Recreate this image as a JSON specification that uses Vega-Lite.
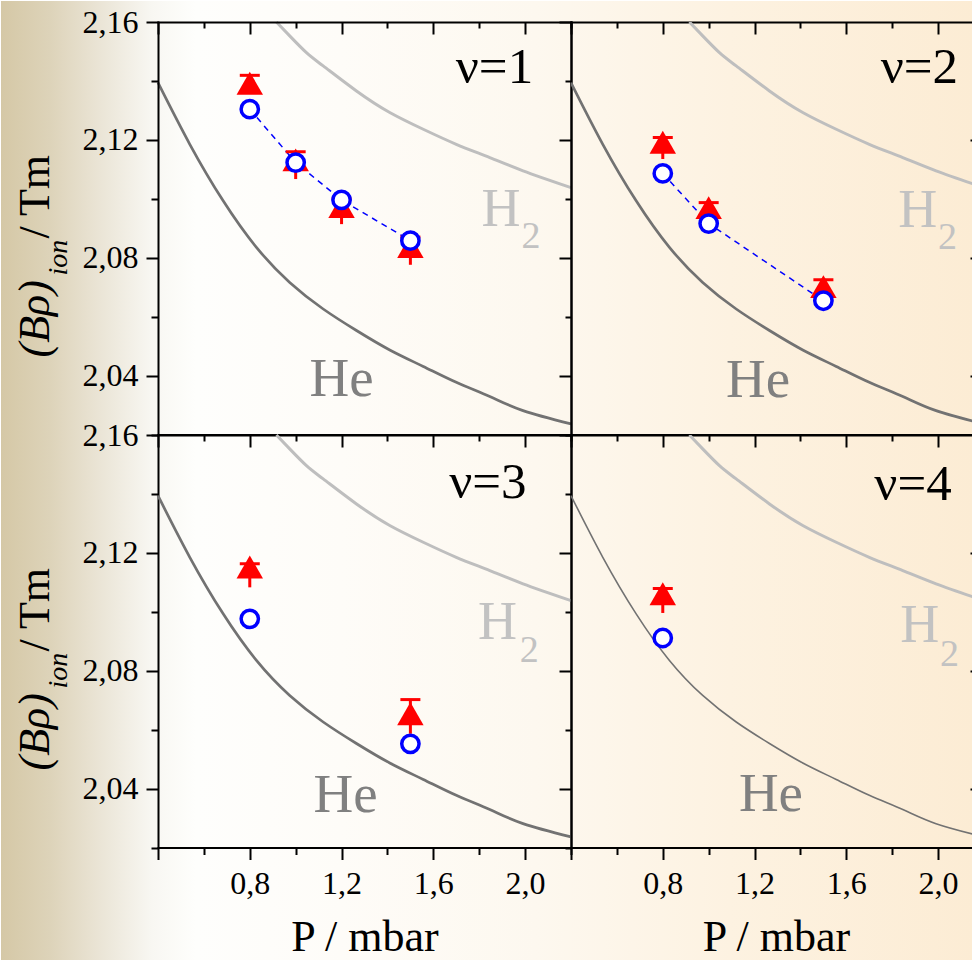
{
  "$schema": "https://vega.github.io/schema/vega-lite/v6.json",
  "padding": 0,
  "autosize": {"type": "pad"},
  "background": "#ffffff",
  "config": {
    "view": {"stroke": null},
    "font": "Liberation Serif",
    "axis": {"domainColor": "#000000", "domainWidth": 2, "tickColor": "#000000", "tickWidth": 2, "labelColor": "#000000", "labelFont": "Liberation Serif", "labelFontSize": 32, "titleFont": "Liberation Serif", "titleColor": "#000000", "titleFontWeight": "normal", "titleFontSize": 44, "grid": false, "labelOverlap": false, "labelFlush": false, "zindex": 1, "domainCap": "square"}
  },
  "datasets": {
    "he": [{"P":0.4,"v":2.1394},{"P":0.5386,"v":2.1185},{"P":0.684,"v":2.0993},{"P":0.829,"v":2.0835},{"P":0.974,"v":2.0716},{"P":1.12,"v":2.0626},{"P":1.265,"v":2.0553},{"P":1.41,"v":2.0487},{"P":1.556,"v":2.0431},{"P":1.70,"v":2.0377},{"P":1.846,"v":2.0329},{"P":1.991,"v":2.0281},{"P":2.2,"v":2.0236}],
    "h2": [{"P":0.916,"v":2.16},{"P":0.974,"v":2.1553},{"P":1.047,"v":2.1496},{"P":1.12,"v":2.1451},{"P":1.265,"v":2.1366},{"P":1.41,"v":2.1293},{"P":1.556,"v":2.1236},{"P":1.70,"v":2.1185},{"P":1.846,"v":2.114},{"P":1.991,"v":2.1095},{"P":2.2,"v":2.1038}],
    "pts": [
      {"panel":1,"kind":"circ","P":0.8,"v":2.1304},{"panel":1,"kind":"circ","P":1.0,"v":2.1123},{"panel":1,"kind":"circ","P":1.2,"v":2.0996},{"panel":1,"kind":"circ","P":1.5,"v":2.0858},
      {"panel":1,"kind":"tri","P":0.8,"v":2.1392,"lo":2.1365,"hi":2.1419},{"panel":1,"kind":"tri","P":1.0,"v":2.1132,"lo":2.1067,"hi":2.116},{"panel":1,"kind":"tri","P":1.2,"v":2.0974,"lo":2.0914,"hi":2.1},{"panel":1,"kind":"tri","P":1.5,"v":2.0838,"lo":2.0776,"hi":2.087},
      {"panel":2,"kind":"circ","P":0.8,"v":2.1086},{"panel":2,"kind":"circ","P":1.0,"v":2.0916},{"panel":2,"kind":"circ","P":1.5,"v":2.0654},
      {"panel":2,"kind":"tri","P":0.8,"v":2.1192,"lo":2.1135,"hi":2.1208},{"panel":2,"kind":"tri","P":1.0,"v":2.097,"lo":2.0935,"hi":2.0987},{"panel":2,"kind":"tri","P":1.5,"v":2.0702,"lo":2.0665,"hi":2.0725},
      {"panel":3,"kind":"circ","P":0.8,"v":2.0976},{"panel":3,"kind":"circ","P":1.5,"v":2.0552},
      {"panel":3,"kind":"tri","P":0.8,"v":2.1152,"lo":2.1083,"hi":2.1163},{"panel":3,"kind":"tri","P":1.5,"v":2.0654,"lo":2.0586,"hi":2.0702},
      {"panel":4,"kind":"circ","P":0.8,"v":2.0911},
      {"panel":4,"kind":"tri","P":0.8,"v":2.1061,"lo":2.0996,"hi":2.1079}
    ]
  },
  "columns": 2,
  "spacing": 0,
  "bounds": "flush",
  "concat": [
    {
      "width": 413, "height": 412.5,
      "resolve": {"axis": {"x": "independent", "y": "independent"}},
      "layer": [
        {"data": {"values": [{}]},
         "mark": {"type": "rect", "color": {"gradient": "linear", "x1": 0, "y1": 0, "x2": 1, "y2": 0, "stops": [{"offset":0,"color":"#d5c8a6"},{"offset":0.05,"color":"#ddd3b9"},{"offset":0.1,"color":"#eae4d5"},{"offset":0.155,"color":"#f8f7f2"},{"offset":0.2,"color":"#fefefc"},{"offset":0.35,"color":"#fefcf8"},{"offset":0.55,"color":"#fdf8ef"},{"offset":0.75,"color":"#fdf2e1"},{"offset":1,"color":"#fcecd4"}]}},
         "encoding": {
           "x": {"datum": -0.2843, "type": "quantitative", "scale": {"domain": [0.4, 2.2], "nice": false, "zero": false}, "axis": null},
           "x2": {"datum": 3.952},
           "y": {"datum": 2.16713, "type": "quantitative", "scale": {"domain": [2.02, 2.16], "nice": false, "zero": false}, "axis": null},
           "y2": {"datum": 1.84131}
         }},
        {"data": {"name": "he"},
         "mark": {"type": "line", "color": "#727272", "strokeWidth": 2.7, "interpolate": "natural"},
         "encoding": {
           "x": {"field": "P", "type": "quantitative", "scale": {"domain": [0.4, 2.2], "nice": false, "zero": false},
                 "axis": {"orient": "bottom", "zindex": 2, "ticks": false, "labels": false, "title": null}},
           "y": {"field": "v", "type": "quantitative", "scale": {"domain": [2.02, 2.16], "nice": false, "zero": false},
                 "axis": {"orient": "left", "zindex": 2, "values": [2.02,2.04,2.06,2.08,2.1,2.12,2.14,2.16], "tickSize": {"condition": {"test": "round(datum.value*100) % 4 == 0", "value": 12}, "value": 7}, "labelExpr": "round(datum.value*100) % 4 == 0 ? replace(format(datum.value, '.2f'), '.', ',') : ''", "labelPadding": 8, "title": "(Bρ)", "titleX": -110, "titleY": 335, "titleAngle": -90, "titleAlign": "left", "titleBaseline": "alphabetic", "titleFontStyle": "italic", "titleFontSize": 44}}
         }},
        {"data": {"name": "h2"},
         "mark": {"type": "line", "color": "#bebebe", "strokeWidth": 3, "interpolate": "natural"},
         "encoding": {
           "x": {"field": "P", "type": "quantitative", "scale": {"domain": [0.4, 2.2], "nice": false, "zero": false},
                 "axis": {"orient": "top", "zindex": 2, "values": [0.4,0.6,0.8,1.0,1.2,1.4,1.6,1.8,2.0,2.2], "tickSize": {"condition": {"test": "round(datum.value*10) % 4 == 0", "value": -12}, "value": -6}, "labels": false, "title": "ion", "titleX": -92, "titleY": 253, "titleAngle": -90, "titleAlign": "left", "titleBaseline": "alphabetic", "titleFontStyle": "italic", "titleFontSize": 28}},
           "y": {"field": "v", "type": "quantitative", "scale": {"domain": [2.02, 2.16], "nice": false, "zero": false},
                 "axis": {"orient": "right", "zindex": 2, "values": [2.02,2.04,2.06,2.08,2.1,2.12,2.14,2.16], "tickSize": {"condition": {"test": "round(datum.value*100) % 4 == 0", "value": -12}, "value": -6}, "labels": false, "title": "/ Tm", "titleX": -523, "titleY": 216, "titleAngle": -90, "titleAlign": "left", "titleBaseline": "alphabetic", "titleFontSize": 44}}
         }},
        {"data": {"name": "pts"}, "transform": [{"filter": "datum.panel == 1 && datum.kind == 'circ'"}],
         "mark": {"type": "line", "color": "#0000ff", "strokeWidth": 1.5, "strokeDash": [6, 5]},
         "encoding": {"x": {"field": "P", "type": "quantitative", "scale": {"domain": [0.4, 2.2], "nice": false, "zero": false}, "axis": null}, "y": {"field": "v", "type": "quantitative", "scale": {"domain": [2.02, 2.16], "nice": false, "zero": false}, "axis": null}}},
        {"data": {"name": "pts"}, "transform": [{"filter": "datum.panel == 1 && datum.kind == 'tri'"}],
         "mark": {"type": "rule", "color": "#ff0000", "strokeWidth": 3},
         "encoding": {"x": {"field": "P", "type": "quantitative", "scale": {"domain": [0.4, 2.2], "nice": false, "zero": false}, "axis": null}, "y": {"field": "lo", "type": "quantitative", "scale": {"domain": [2.02, 2.16], "nice": false, "zero": false}, "axis": null}, "y2": {"field": "hi"}}},
        {"data": {"name": "pts"}, "transform": [{"filter": "datum.panel == 1 && datum.kind == 'tri'"}],
         "mark": {"type": "tick", "orient": "horizontal", "size": 20, "thickness": 3, "color": "#ff0000", "opacity": 1},
         "encoding": {"x": {"field": "P", "type": "quantitative", "scale": {"domain": [0.4, 2.2], "nice": false, "zero": false}, "axis": null}, "y": {"field": "hi", "type": "quantitative", "scale": {"domain": [2.02, 2.16], "nice": false, "zero": false}, "axis": null}}},
        {"data": {"name": "pts"}, "transform": [{"filter": "datum.panel == 1 && datum.kind == 'tri'"}],
         "mark": {"type": "point", "shape": "triangle-up", "filled": true, "color": "#ff0000", "size": 700, "opacity": 1},
         "encoding": {"x": {"field": "P", "type": "quantitative", "scale": {"domain": [0.4, 2.2], "nice": false, "zero": false}, "axis": null}, "y": {"field": "v", "type": "quantitative", "scale": {"domain": [2.02, 2.16], "nice": false, "zero": false}, "axis": null}}},
        {"data": {"name": "pts"}, "transform": [{"filter": "datum.panel == 1 && datum.kind == 'circ'"}],
         "mark": {"type": "point", "shape": "circle", "filled": true, "fill": "#ffffff", "stroke": "#0000ff", "strokeWidth": 3.5, "size": 300, "opacity": 1},
         "encoding": {"x": {"field": "P", "type": "quantitative", "scale": {"domain": [0.4, 2.2], "nice": false, "zero": false}, "axis": null}, "y": {"field": "v", "type": "quantitative", "scale": {"domain": [2.02, 2.16], "nice": false, "zero": false}, "axis": null}}},
        {"data": {"values": [{}]},
         "mark": {"type": "text", "text": "ν=1", "fontSize": 51, "align": "right", "baseline": "alphabetic", "color": "#000000", "font": "Liberation Serif"},
         "encoding": {"x": {"datum": 2.035, "type": "quantitative", "scale": {"domain": [0.4, 2.2], "nice": false, "zero": false}, "axis": null}, "y": {"datum": 2.1394, "type": "quantitative", "scale": {"domain": [2.02, 2.16], "nice": false, "zero": false}, "axis": null}}},
        {"data": {"values": [{}]},
         "mark": {"type": "text", "text": "He", "fontSize": 55, "align": "center", "baseline": "alphabetic", "color": "#808080", "font": "Liberation Serif"},
         "encoding": {"x": {"datum": 1.2, "type": "quantitative", "scale": {"domain": [0.4, 2.2], "nice": false, "zero": false}, "axis": null}, "y": {"datum": 2.0332, "type": "quantitative", "scale": {"domain": [2.02, 2.16], "nice": false, "zero": false}, "axis": null}}},
        {"data": {"values": [{}]},
         "mark": {"type": "text", "text": "H", "fontSize": 54, "align": "left", "baseline": "alphabetic", "color": "#c2c2c2", "font": "Liberation Serif"},
         "encoding": {"x": {"datum": 1.8096, "type": "quantitative", "scale": {"domain": [0.4, 2.2], "nice": false, "zero": false}, "axis": null}, "y": {"datum": 2.0908, "type": "quantitative", "scale": {"domain": [2.02, 2.16], "nice": false, "zero": false}, "axis": null}}},
        {"data": {"values": [{}]},
         "mark": {"type": "text", "text": "2", "fontSize": 38, "align": "left", "baseline": "alphabetic", "color": "#c2c2c2", "font": "Liberation Serif"},
         "encoding": {"x": {"datum": 1.984, "type": "quantitative", "scale": {"domain": [0.4, 2.2], "nice": false, "zero": false}, "axis": null}, "y": {"datum": 2.0833, "type": "quantitative", "scale": {"domain": [2.02, 2.16], "nice": false, "zero": false}, "axis": null}}}
      ]
    },
    {
      "width": 402, "height": 412.5,
      "resolve": {"axis": {"x": "independent", "y": "independent"}},
      "layer": [
        {"data": {"name": "he"},
         "mark": {"type": "line", "color": "#727272", "strokeWidth": 2.7, "interpolate": "natural", "clip": true},
         "encoding": {
           "x": {"field": "P", "type": "quantitative", "scale": {"domain": [0.4, 2.152], "nice": false, "zero": false},
                 "axis": {"orient": "bottom", "ticks": false, "labels": false, "title": null}},
           "y": {"field": "v", "type": "quantitative", "scale": {"domain": [2.02, 2.16], "nice": false, "zero": false},
                 "axis": {"orient": "left", "ticks": false, "labels": false, "title": null}}
         }},
        {"data": {"name": "h2"},
         "mark": {"type": "line", "color": "#bebebe", "strokeWidth": 3, "interpolate": "natural", "clip": true},
         "encoding": {
           "x": {"field": "P", "type": "quantitative", "scale": {"domain": [0.4, 2.152], "nice": false, "zero": false},
                 "axis": {"orient": "top", "values": [0.4,0.6,0.8,1.0,1.2,1.4,1.6,1.8,2.0], "tickSize": {"condition": {"test": "round(datum.value*10) % 4 == 0", "value": -12}, "value": -6}, "labels": false, "title": null}},
           "y": {"field": "v", "type": "quantitative", "scale": {"domain": [2.02, 2.16], "nice": false, "zero": false},
                 "axis": {"orient": "right", "domain": false, "values": [2.04, 2.08, 2.12], "tickSize": -3, "labels": false, "title": null}}
         }},
        {"data": {"name": "pts"}, "transform": [{"filter": "datum.panel == 2 && datum.kind == 'circ'"}],
         "mark": {"type": "line", "color": "#0000ff", "strokeWidth": 1.5, "strokeDash": [6, 5]},
         "encoding": {"x": {"field": "P", "type": "quantitative", "scale": {"domain": [0.4, 2.152], "nice": false, "zero": false}, "axis": null}, "y": {"field": "v", "type": "quantitative", "scale": {"domain": [2.02, 2.16], "nice": false, "zero": false}, "axis": null}}},
        {"data": {"name": "pts"}, "transform": [{"filter": "datum.panel == 2 && datum.kind == 'tri'"}],
         "mark": {"type": "rule", "color": "#ff0000", "strokeWidth": 3},
         "encoding": {"x": {"field": "P", "type": "quantitative", "scale": {"domain": [0.4, 2.152], "nice": false, "zero": false}, "axis": null}, "y": {"field": "lo", "type": "quantitative", "scale": {"domain": [2.02, 2.16], "nice": false, "zero": false}, "axis": null}, "y2": {"field": "hi"}}},
        {"data": {"name": "pts"}, "transform": [{"filter": "datum.panel == 2 && datum.kind == 'tri'"}],
         "mark": {"type": "tick", "orient": "horizontal", "size": 20, "thickness": 3, "color": "#ff0000", "opacity": 1},
         "encoding": {"x": {"field": "P", "type": "quantitative", "scale": {"domain": [0.4, 2.152], "nice": false, "zero": false}, "axis": null}, "y": {"field": "hi", "type": "quantitative", "scale": {"domain": [2.02, 2.16], "nice": false, "zero": false}, "axis": null}}},
        {"data": {"name": "pts"}, "transform": [{"filter": "datum.panel == 2 && datum.kind == 'tri'"}],
         "mark": {"type": "point", "shape": "triangle-up", "filled": true, "color": "#ff0000", "size": 700, "opacity": 1},
         "encoding": {"x": {"field": "P", "type": "quantitative", "scale": {"domain": [0.4, 2.152], "nice": false, "zero": false}, "axis": null}, "y": {"field": "v", "type": "quantitative", "scale": {"domain": [2.02, 2.16], "nice": false, "zero": false}, "axis": null}}},
        {"data": {"name": "pts"}, "transform": [{"filter": "datum.panel == 2 && datum.kind == 'circ'"}],
         "mark": {"type": "point", "shape": "circle", "filled": true, "fill": "#ffffff", "stroke": "#0000ff", "strokeWidth": 3.5, "size": 300, "opacity": 1},
         "encoding": {"x": {"field": "P", "type": "quantitative", "scale": {"domain": [0.4, 2.152], "nice": false, "zero": false}, "axis": null}, "y": {"field": "v", "type": "quantitative", "scale": {"domain": [2.02, 2.16], "nice": false, "zero": false}, "axis": null}}},
        {"data": {"values": [{}]},
         "mark": {"type": "text", "text": "ν=2", "fontSize": 51, "align": "right", "baseline": "alphabetic", "color": "#000000", "font": "Liberation Serif"},
         "encoding": {"x": {"datum": 2.087, "type": "quantitative", "scale": {"domain": [0.4, 2.152], "nice": false, "zero": false}, "axis": null}, "y": {"datum": 2.1394, "type": "quantitative", "scale": {"domain": [2.02, 2.16], "nice": false, "zero": false}, "axis": null}}},
        {"data": {"values": [{}]},
         "mark": {"type": "text", "text": "He", "fontSize": 55, "align": "center", "baseline": "alphabetic", "color": "#808080", "font": "Liberation Serif"},
         "encoding": {"x": {"datum": 1.2157, "type": "quantitative", "scale": {"domain": [0.4, 2.152], "nice": false, "zero": false}, "axis": null}, "y": {"datum": 2.0326, "type": "quantitative", "scale": {"domain": [2.02, 2.16], "nice": false, "zero": false}, "axis": null}}},
        {"data": {"values": [{}]},
         "mark": {"type": "text", "text": "H", "fontSize": 54, "align": "left", "baseline": "alphabetic", "color": "#c2c2c2", "font": "Liberation Serif"},
         "encoding": {"x": {"datum": 1.8257, "type": "quantitative", "scale": {"domain": [0.4, 2.152], "nice": false, "zero": false}, "axis": null}, "y": {"datum": 2.0903, "type": "quantitative", "scale": {"domain": [2.02, 2.16], "nice": false, "zero": false}, "axis": null}}},
        {"data": {"values": [{}]},
         "mark": {"type": "text", "text": "2", "fontSize": 38, "align": "left", "baseline": "alphabetic", "color": "#c2c2c2", "font": "Liberation Serif"},
         "encoding": {"x": {"datum": 2.0, "type": "quantitative", "scale": {"domain": [0.4, 2.152], "nice": false, "zero": false}, "axis": null}, "y": {"datum": 2.0829, "type": "quantitative", "scale": {"domain": [2.02, 2.16], "nice": false, "zero": false}, "axis": null}}}
      ]
    },
    {
      "width": 413, "height": 412.5,
      "resolve": {"axis": {"x": "independent", "y": "independent"}},
      "layer": [
        {"data": {"name": "he"},
         "mark": {"type": "line", "color": "#727272", "strokeWidth": 2.7, "interpolate": "natural"},
         "encoding": {
           "x": {"field": "P", "type": "quantitative", "scale": {"domain": [0.4, 2.2], "nice": false, "zero": false},
                 "axis": {"orient": "bottom", "values": [0.4,0.6,0.8,1.0,1.2,1.4,1.6,1.8,2.0,2.2], "tickSize": {"condition": {"test": "round(datum.value*10) % 4 == 0", "value": 12}, "value": 7}, "labelExpr": "round(datum.value*10) % 4 == 0 && datum.value > 0.5 && datum.value < 2.1 ? replace(format(datum.value, '.1f'), '.', ',') : ''", "labelPadding": 9, "title": "P / mbar", "titleY": 103, "titleBaseline": "alphabetic"}},
           "y": {"field": "v", "type": "quantitative", "scale": {"domain": [2.02, 2.16], "nice": false, "zero": false},
                 "axis": {"orient": "left", "values": [2.02,2.04,2.06,2.08,2.1,2.12,2.14,2.16], "tickSize": {"condition": {"test": "round(datum.value*100) % 4 == 0", "value": 12}, "value": 7}, "labelExpr": "round(datum.value*100) % 4 == 0 ? replace(format(datum.value, '.2f'), '.', ',') : ''", "labelPadding": 8, "title": "(Bρ)", "titleX": -110, "titleY": 335, "titleAngle": -90, "titleAlign": "left", "titleBaseline": "alphabetic", "titleFontStyle": "italic", "titleFontSize": 44}}
         }},
        {"data": {"name": "h2"},
         "mark": {"type": "line", "color": "#bebebe", "strokeWidth": 3, "interpolate": "natural"},
         "encoding": {
           "x": {"field": "P", "type": "quantitative", "scale": {"domain": [0.4, 2.2], "nice": false, "zero": false},
                 "axis": {"orient": "top", "values": [0.4,0.6,0.8,1.0,1.2,1.4,1.6,1.8,2.0,2.2], "tickSize": {"condition": {"test": "round(datum.value*10) % 4 == 0", "value": -12}, "value": -6}, "labels": false, "title": "ion", "titleX": -92, "titleY": 253, "titleAngle": -90, "titleAlign": "left", "titleBaseline": "alphabetic", "titleFontStyle": "italic", "titleFontSize": 28}},
           "y": {"field": "v", "type": "quantitative", "scale": {"domain": [2.02, 2.16], "nice": false, "zero": false},
                 "axis": {"orient": "right", "values": [2.02,2.04,2.06,2.08,2.1,2.12,2.14,2.16], "tickSize": {"condition": {"test": "round(datum.value*100) % 4 == 0", "value": -12}, "value": -6}, "labels": false, "title": "/ Tm", "titleX": -523, "titleY": 216, "titleAngle": -90, "titleAlign": "left", "titleBaseline": "alphabetic", "titleFontSize": 44}}
         }},
        {"data": {"name": "pts"}, "transform": [{"filter": "datum.panel == 3 && datum.kind == 'tri'"}],
         "mark": {"type": "rule", "color": "#ff0000", "strokeWidth": 3},
         "encoding": {"x": {"field": "P", "type": "quantitative", "scale": {"domain": [0.4, 2.2], "nice": false, "zero": false}, "axis": null}, "y": {"field": "lo", "type": "quantitative", "scale": {"domain": [2.02, 2.16], "nice": false, "zero": false}, "axis": null}, "y2": {"field": "hi"}}},
        {"data": {"name": "pts"}, "transform": [{"filter": "datum.panel == 3 && datum.kind == 'tri'"}],
         "mark": {"type": "tick", "orient": "horizontal", "size": 20, "thickness": 3, "color": "#ff0000", "opacity": 1},
         "encoding": {"x": {"field": "P", "type": "quantitative", "scale": {"domain": [0.4, 2.2], "nice": false, "zero": false}, "axis": null}, "y": {"field": "hi", "type": "quantitative", "scale": {"domain": [2.02, 2.16], "nice": false, "zero": false}, "axis": null}}},
        {"data": {"name": "pts"}, "transform": [{"filter": "datum.panel == 3 && datum.kind == 'tri'"}],
         "mark": {"type": "point", "shape": "triangle-up", "filled": true, "color": "#ff0000", "size": 700, "opacity": 1},
         "encoding": {"x": {"field": "P", "type": "quantitative", "scale": {"domain": [0.4, 2.2], "nice": false, "zero": false}, "axis": null}, "y": {"field": "v", "type": "quantitative", "scale": {"domain": [2.02, 2.16], "nice": false, "zero": false}, "axis": null}}},
        {"data": {"name": "pts"}, "transform": [{"filter": "datum.panel == 3 && datum.kind == 'circ'"}],
         "mark": {"type": "point", "shape": "circle", "filled": true, "fill": "#ffffff", "stroke": "#0000ff", "strokeWidth": 3.5, "size": 300, "opacity": 1},
         "encoding": {"x": {"field": "P", "type": "quantitative", "scale": {"domain": [0.4, 2.2], "nice": false, "zero": false}, "axis": null}, "y": {"field": "v", "type": "quantitative", "scale": {"domain": [2.02, 2.16], "nice": false, "zero": false}, "axis": null}}},
        {"data": {"values": [{}]},
         "mark": {"type": "text", "text": "ν=3", "fontSize": 51, "align": "right", "baseline": "alphabetic", "color": "#000000", "font": "Liberation Serif"},
         "encoding": {"x": {"datum": 2.006, "type": "quantitative", "scale": {"domain": [0.4, 2.2], "nice": false, "zero": false}, "axis": null}, "y": {"datum": 2.1387, "type": "quantitative", "scale": {"domain": [2.02, 2.16], "nice": false, "zero": false}, "axis": null}}},
        {"data": {"values": [{}]},
         "mark": {"type": "text", "text": "He", "fontSize": 55, "align": "center", "baseline": "alphabetic", "color": "#808080", "font": "Liberation Serif"},
         "encoding": {"x": {"datum": 1.218, "type": "quantitative", "scale": {"domain": [0.4, 2.2], "nice": false, "zero": false}, "axis": null}, "y": {"datum": 2.0321, "type": "quantitative", "scale": {"domain": [2.02, 2.16], "nice": false, "zero": false}, "axis": null}}},
        {"data": {"values": [{}]},
         "mark": {"type": "text", "text": "H", "fontSize": 54, "align": "left", "baseline": "alphabetic", "color": "#c2c2c2", "font": "Liberation Serif"},
         "encoding": {"x": {"datum": 1.795, "type": "quantitative", "scale": {"domain": [0.4, 2.2], "nice": false, "zero": false}, "axis": null}, "y": {"datum": 2.0907, "type": "quantitative", "scale": {"domain": [2.02, 2.16], "nice": false, "zero": false}, "axis": null}}},
        {"data": {"values": [{}]},
         "mark": {"type": "text", "text": "2", "fontSize": 38, "align": "left", "baseline": "alphabetic", "color": "#c2c2c2", "font": "Liberation Serif"},
         "encoding": {"x": {"datum": 1.9765, "type": "quantitative", "scale": {"domain": [0.4, 2.2], "nice": false, "zero": false}, "axis": null}, "y": {"datum": 2.0828, "type": "quantitative", "scale": {"domain": [2.02, 2.16], "nice": false, "zero": false}, "axis": null}}}
      ]
    },
    {
      "width": 402, "height": 412.5,
      "resolve": {"axis": {"x": "independent", "y": "independent"}},
      "layer": [
        {"data": {"name": "he"},
         "mark": {"type": "line", "color": "#727272", "strokeWidth": 1.6, "interpolate": "natural", "clip": true},
         "encoding": {
           "x": {"field": "P", "type": "quantitative", "scale": {"domain": [0.4, 2.152], "nice": false, "zero": false},
                 "axis": {"orient": "bottom", "values": [0.4,0.6,0.8,1.0,1.2,1.4,1.6,1.8,2.0], "tickSize": {"condition": {"test": "round(datum.value*10) % 4 == 0", "value": 12}, "value": 7}, "labelExpr": "round(datum.value*10) % 4 == 0 && datum.value > 0.5 && datum.value < 2.1 ? replace(format(datum.value, '.1f'), '.', ',') : ''", "labelPadding": 9, "title": "P / mbar", "titleX": 205, "titleY": 103, "titleBaseline": "alphabetic"}},
           "y": {"field": "v", "type": "quantitative", "scale": {"domain": [2.02, 2.16], "nice": false, "zero": false},
                 "axis": {"orient": "left", "ticks": false, "labels": false, "title": null}}
         }},
        {"data": {"name": "h2"},
         "mark": {"type": "line", "color": "#bebebe", "strokeWidth": 3, "interpolate": "natural", "clip": true},
         "encoding": {
           "x": {"field": "P", "type": "quantitative", "scale": {"domain": [0.4, 2.152], "nice": false, "zero": false},
                 "axis": {"orient": "top", "values": [0.4,0.6,0.8,1.0,1.2,1.4,1.6,1.8,2.0], "tickSize": {"condition": {"test": "round(datum.value*10) % 4 == 0", "value": -12}, "value": -6}, "labels": false, "title": null}},
           "y": {"field": "v", "type": "quantitative", "scale": {"domain": [2.02, 2.16], "nice": false, "zero": false},
                 "axis": {"orient": "right", "domain": false, "values": [2.04, 2.08, 2.12], "tickSize": -3, "labels": false, "title": null}}
         }},
        {"data": {"name": "pts"}, "transform": [{"filter": "datum.panel == 4 && datum.kind == 'tri'"}],
         "mark": {"type": "rule", "color": "#ff0000", "strokeWidth": 3},
         "encoding": {"x": {"field": "P", "type": "quantitative", "scale": {"domain": [0.4, 2.152], "nice": false, "zero": false}, "axis": null}, "y": {"field": "lo", "type": "quantitative", "scale": {"domain": [2.02, 2.16], "nice": false, "zero": false}, "axis": null}, "y2": {"field": "hi"}}},
        {"data": {"name": "pts"}, "transform": [{"filter": "datum.panel == 4 && datum.kind == 'tri'"}],
         "mark": {"type": "tick", "orient": "horizontal", "size": 20, "thickness": 3, "color": "#ff0000", "opacity": 1},
         "encoding": {"x": {"field": "P", "type": "quantitative", "scale": {"domain": [0.4, 2.152], "nice": false, "zero": false}, "axis": null}, "y": {"field": "hi", "type": "quantitative", "scale": {"domain": [2.02, 2.16], "nice": false, "zero": false}, "axis": null}}},
        {"data": {"name": "pts"}, "transform": [{"filter": "datum.panel == 4 && datum.kind == 'tri'"}],
         "mark": {"type": "point", "shape": "triangle-up", "filled": true, "color": "#ff0000", "size": 700, "opacity": 1},
         "encoding": {"x": {"field": "P", "type": "quantitative", "scale": {"domain": [0.4, 2.152], "nice": false, "zero": false}, "axis": null}, "y": {"field": "v", "type": "quantitative", "scale": {"domain": [2.02, 2.16], "nice": false, "zero": false}, "axis": null}}},
        {"data": {"name": "pts"}, "transform": [{"filter": "datum.panel == 4 && datum.kind == 'circ'"}],
         "mark": {"type": "point", "shape": "circle", "filled": true, "fill": "#ffffff", "stroke": "#0000ff", "strokeWidth": 3.5, "size": 300, "opacity": 1},
         "encoding": {"x": {"field": "P", "type": "quantitative", "scale": {"domain": [0.4, 2.152], "nice": false, "zero": false}, "axis": null}, "y": {"field": "v", "type": "quantitative", "scale": {"domain": [2.02, 2.16], "nice": false, "zero": false}, "axis": null}}},
        {"data": {"values": [{}]},
         "mark": {"type": "text", "text": "ν=4", "fontSize": 51, "align": "right", "baseline": "alphabetic", "color": "#000000", "font": "Liberation Serif"},
         "encoding": {"x": {"datum": 2.059, "type": "quantitative", "scale": {"domain": [0.4, 2.152], "nice": false, "zero": false}, "axis": null}, "y": {"datum": 2.1381, "type": "quantitative", "scale": {"domain": [2.02, 2.16], "nice": false, "zero": false}, "axis": null}}},
        {"data": {"values": [{}]},
         "mark": {"type": "text", "text": "He", "fontSize": 55, "align": "center", "baseline": "alphabetic", "color": "#808080", "font": "Liberation Serif"},
         "encoding": {"x": {"datum": 1.2715, "type": "quantitative", "scale": {"domain": [0.4, 2.152], "nice": false, "zero": false}, "axis": null}, "y": {"datum": 2.0325, "type": "quantitative", "scale": {"domain": [2.02, 2.16], "nice": false, "zero": false}, "axis": null}}},
        {"data": {"values": [{}]},
         "mark": {"type": "text", "text": "H", "fontSize": 54, "align": "left", "baseline": "alphabetic", "color": "#c2c2c2", "font": "Liberation Serif"},
         "encoding": {"x": {"datum": 1.8344, "type": "quantitative", "scale": {"domain": [0.4, 2.152], "nice": false, "zero": false}, "axis": null}, "y": {"datum": 2.0896, "type": "quantitative", "scale": {"domain": [2.02, 2.16], "nice": false, "zero": false}, "axis": null}}},
        {"data": {"values": [{}]},
         "mark": {"type": "text", "text": "2", "fontSize": 38, "align": "left", "baseline": "alphabetic", "color": "#c2c2c2", "font": "Liberation Serif"},
         "encoding": {"x": {"datum": 2.0087, "type": "quantitative", "scale": {"domain": [0.4, 2.152], "nice": false, "zero": false}, "axis": null}, "y": {"datum": 2.0816, "type": "quantitative", "scale": {"domain": [2.02, 2.16], "nice": false, "zero": false}, "axis": null}}}
      ]
    }
  ]
}
